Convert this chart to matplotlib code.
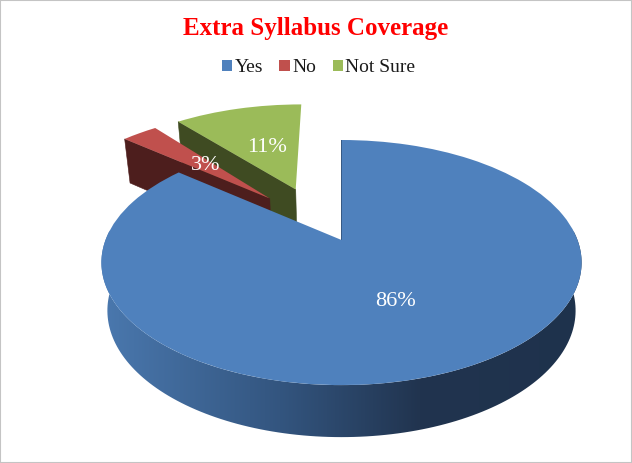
import numpy as np
import matplotlib
matplotlib.use('Agg')
import matplotlib.pyplot as plt
from matplotlib.transforms import Transform, Affine2D
from matplotlib.patches import Polygon
from matplotlib.colors import to_rgb

labels = ['Yes', 'No', 'Not Sure']
values = [86, 3, 11]
colors = ['#4f81bd', '#c0504d', '#9bbb59']
side_colors = ['#1f334e', '#4d1e1d', '#3f4b22']
explode = [0, 0.53, 0.53]
title = 'Extra Syllabus Coverage'

# look of the tilted pie, in pixels
cx, cy = 341.5, 240
bx, by, k = 236, 118.4, 0.184
nudge = [(0, 0), (11, 0), (-7, 3.5)]


def project(xy):
    xy = np.asarray(xy, dtype=float)
    w = 1 + k * xy[:, 1]
    return np.column_stack((cx + bx * xy[:, 0] / w, cy - by * xy[:, 1] / w))


def drop(pts):
    # bottom rim of the slab, a little narrower than the top
    return np.column_stack((341 + 0.975 * (pts[:, 0] - 341),
                            pts[:, 1] + 39.5 + 0.0325 * pts[:, 1]))


class Tilt(Transform):
    input_dims = 2
    output_dims = 2

    def transform_non_affine(self, values):
        return project(values)


def blue_shade(x):
    stops = [103, 280, 420, 600]
    cols = np.array([to_rgb('#4a78ae'), to_rgb('#33557f'), to_rgb('#21344f'), to_rgb('#1e324c')])
    return np.column_stack([np.interp(x, stops, cols[:, i]) for i in range(3)])


plt.rcParams['font.family'] = ['Liberation Serif', 'DejaVu Serif']
fig = plt.figure(figsize=(6.32, 4.63), dpi=100)
ax = fig.add_axes([0, 0, 1, 1])

wedges, _ = ax.pie(values, colors=colors, explode=explode, startangle=90,
                   counterclock=False, radius=1)

tilt = Tilt()
# far slices first, big one goes on top of them
for idx, z in zip([2, 1, 0], [2, 4, 6]):
    wedge = wedges[idx]
    shift = Affine2D().translate(*nudge[idx])
    wedge.set_transform(tilt + shift + ax.transData)
    wedge.set_zorder(z + 1)
    wedge.set_edgecolor('none')
    c = np.array(wedge.center)
    th = np.radians(np.linspace(wedge.theta1, wedge.theta2, 240))
    rim = c + wedge.r * np.column_stack((np.cos(th), np.sin(th)))
    top = project(rim) + nudge[idx]
    bot = drop(top)
    apex = project(c[None, :]) + nudge[idx]
    apex_bot = drop(apex)
    # cut face on the clockwise-start side
    quad = np.vstack((apex, top[-1], bot[-1], apex_bot))
    ax.add_patch(Polygon(quad, closed=True, fc=side_colors[idx], ec=side_colors[idx],
                         lw=0.4, zorder=z))
    # only the big slice shows its outer wall, the others have it at the back
    if idx == 0:
        front = np.sin(th) < 0.1
        band = np.vstack((top[front], bot[front][::-1]))
        xs = np.linspace(90, 600, 256)
        grad = blue_shade(xs)[None, :, :]
        im = ax.imshow(grad, extent=(90, 600, 463, 0), aspect='auto', zorder=z)
        im.set_clip_path(Polygon(band, closed=True, transform=ax.transData))

ax.set(frame_on=True, aspect='auto', xlim=(0, 632), ylim=(463, 0), xticks=[], yticks=[])

ax.text(315.5, 28, title, color='#ff0000', fontsize=18, fontweight='bold',
        ha='center', va='center')

for x, y, v in zip([395, 206, 267], [301, 165, 148], values):
    ax.text(x, y, '%d%%' % v, color='white', fontsize=16, ha='center', va='center', zorder=10)

leg = ax.legend(wedges, labels, ncol=3, loc='center', bbox_to_anchor=(318.5 / 632, 1 - 68 / 463),
                frameon=False, fontsize=14, handlelength=0.52, handleheight=0.52,
                handletextpad=0.14, columnspacing=0.85, labelcolor='#1a1a1a')

for s in ax.spines.values():
    s.set_edgecolor('#c4c4c4')
    s.set_linewidth(1.5)

fig.savefig('out.png', dpi=100)
